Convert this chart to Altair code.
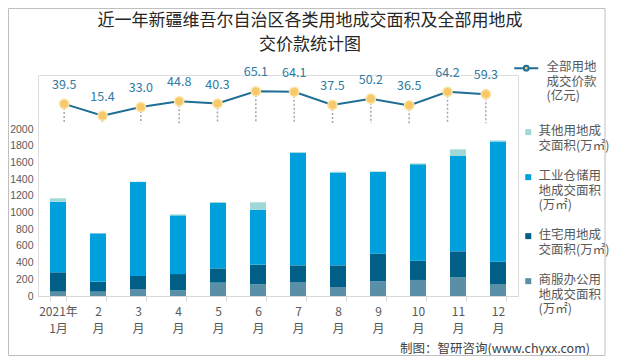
import altair as alt
import pandas as pd

months = ["2021年1月", "2月", "3月", "4月", "5月", "6月", "7月", "8月", "9月", "10月", "11月", "12月"]
price = [39.5, 15.4, 33.0, 44.8, 40.3, 65.1, 64.1, 37.5, 50.2, 36.5, 64.2, 59.3]
commercial = [52, 52, 84, 68, 160, 140, 168, 108, 176, 192, 224, 144]
residential = [232, 120, 156, 195, 171, 235, 199, 259, 331, 231, 311, 267]
industrial = [846, 578, 1125, 703, 783, 659, 1349, 1113, 978, 1154, 1142, 1441]
other = [40, 5, 5, 12, 12, 88, 8, 9, 8, 12, 80, 12]

s_other = "其他用地成交面积(万㎡)"
s_ind = "工业仓储用地成交面积(万㎡)"
s_res = "住宅用地成交面积(万㎡)"
s_com = "商服办公用地成交面积(万㎡)"
s_price = "全部用地成交价款(亿元)"
series_names = [s_other, s_ind, s_res, s_com]
series_colors = ["#A0D8D5", "#00A0DC", "#005F86", "#5A8FA8"]

FONT = "Noto Sans CJK SC"

rows = []
for i, m in enumerate(months):
    rows.append({"month": m, "series": s_com, "value": commercial[i], "ord": 0})
    rows.append({"month": m, "series": s_res, "value": residential[i], "ord": 1})
    rows.append({"month": m, "series": s_ind, "value": industrial[i], "ord": 2})
    rows.append({"month": m, "series": s_other, "value": other[i], "ord": 3})
bar_df = pd.DataFrame(rows)
line_df = pd.DataFrame({"month": months, "price": price, "series": [s_price] * len(months)})
deco_df = pd.DataFrame({"k": [0]})

x_label_expr = ("!isValid(datum.value) ? '' : "
                "datum.value == '2021年1月' ? ['2021年', '1月'] : "
                "[replace(datum.value, '月', ''), '月']")

legend_label_expr = (
    "datum.label == '" + s_other + "' ? ['其他用地成', '交面积(万㎡)'] : "
    "datum.label == '" + s_ind + "' ? ['工业仓储用', '地成交面积', '(万㎡)'] : "
    "datum.label == '" + s_res + "' ? ['住宅用地成', '交面积(万㎡)'] : "
    "datum.label == '" + s_com + "' ? ['商服办公用', '地成交面积', '(万㎡)'] : "
    "['全部用地', '成交价款', '(亿元)']"
)

square_path = "M-1,1.3H1V3.3H-1Z"
line_path = "M-4,2.3H-0.8M0.8,2.3H4M-0.8,2.3A0.8,0.8,0,1,0,0.8,2.3A0.8,0.8,0,1,0,-0.8,2.3"

bars = alt.Chart(bar_df).mark_bar().encode(
    x=alt.X("month:N", sort=months,
            scale=alt.Scale(domain=months, paddingInner=0.6, paddingOuter=0.3),
            axis=alt.Axis(title=None, labelExpr=x_label_expr, labelAngle=0,
                          labelFont=FONT, labelFontSize=12, labelColor="#595959",
                          labelLineHeight=17, labelPadding=5,
                          domainColor="#D9D9D9", tickColor="#D9D9D9", tickSize=5,
                          tickBand="extent", grid=False)),
    y=alt.Y("value:Q", stack="zero",
            scale=alt.Scale(domain=[0, 2647], nice=False),
            axis=alt.Axis(title=None, values=list(range(0, 2001, 200)), grid=False,
                          format="d", domain=False, ticks=False, labelPadding=5,
                          labelFont="Liberation Sans",
                          labelFontSize=10.5, labelColor="#595959")),
    fill=alt.Fill("series:N",
                  scale=alt.Scale(domain=series_names, range=series_colors),
                  legend=alt.Legend(title=None, orient="none", legendX=484, legendY=44,
                                    symbolType=square_path, symbolSize=36,
                                    symbolStrokeWidth=0, labelOffset=4,
                                    labelExpr=legend_label_expr, labelBaseline="top",
                                    labelFont=FONT, labelFontSize=12.5,
                                    labelColor="#595959", labelLimit=0,
                                    rowPadding=11, padding=0)),
    order=alt.Order("ord:Q"),
)

base = alt.Chart(line_df).encode(
    x=alt.X("month:N", sort=months,
            scale=alt.Scale(type="point", domain=months, range=[7, 467]), axis=None),
    y=alt.Y("price:Q", scale=alt.Scale(domain=[-352, 98.4], nice=False, zero=False),
            axis=None),
)
drops = base.mark_rule(strokeDash=[2, 2], color="#A6A6A6", strokeWidth=1.5).encode(
    y2=alt.datum(0)
)
line = base.mark_line(strokeWidth=2).encode(
    stroke=alt.Stroke("series:N",
                      scale=alt.Scale(domain=[s_price], range=["#1F6E95"]),
                      legend=alt.Legend(title=None, orient="none", legendX=482, legendY=-20,
                                        symbolType=line_path, symbolSize=36,
                                        symbolStrokeWidth=2, symbolFillColor="#F7C96A",
                                        labelOffset=14, labelExpr=legend_label_expr,
                                        labelBaseline="top", labelFont=FONT,
                                        labelFontSize=12.5, labelColor="#595959",
                                        labelLimit=0, padding=0))
)
points = base.mark_circle(size=85, opacity=1, color="#F7C96A", stroke="#FCE3A6",
                          strokeWidth=1.5)
labels = base.mark_text(dy=-19, fontSize=12.5, color="#2E7BA3", font=FONT).encode(
    text=alt.Text("price:Q", format=".1f")
)
line_group = alt.layer(drops, line, points, labels)

title = alt.Chart(deco_df).mark_text(
    font=FONT, fontSize=17, color="#262626", align="center", baseline="top",
    lineHeight=24
).encode(
    x=alt.value(272), y=alt.value(-62),
    text=alt.value(["近一年新疆维吾尔自治区各类用地成交面积及全部用地成", "交价款统计图"]),
)
footer = alt.Chart(deco_df).mark_text(
    font=FONT, fontSize=12.5, color="#404040", align="right", baseline="middle"
).encode(
    x=alt.value(552), y=alt.value(274),
    text=alt.value("制图：智研咨询(www.chyxx.com)"),
)
border = alt.Chart(deco_df).mark_rect(fillOpacity=0, stroke="#BFBFBF", strokeWidth=1).encode(
    x=alt.value(-29.5), x2=alt.value(567), y=alt.value(-66.5), y2=alt.value(280.5)
)

chart = alt.layer(bars, line_group, title, footer, border).resolve_scale(
    x="independent", y="independent"
).properties(
    width=480, height=221,
    autosize=alt.AutoSizeParams(type="none"),
    padding={"left": 30, "top": 67, "right": 94, "bottom": 60},
).configure_view(stroke=None).configure(font=FONT)

chart.save("out.html", embed_options={"renderer": "svg", "actions": False})
